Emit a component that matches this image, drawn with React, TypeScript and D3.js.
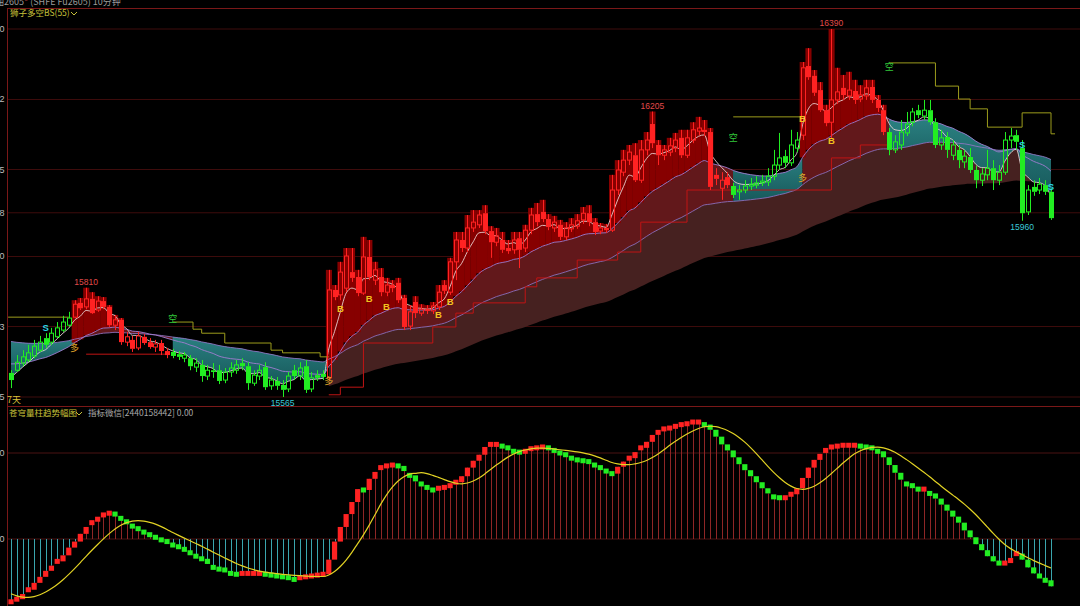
import React, { useEffect } from 'react';
import * as d3 from 'd3';

// ---------- price data (10-minute bars) ----------
const openP = [15619,15625,15641,15648,15657,15670,15697,15688,15700,15715,15726,
15744,15776,15767,15785,15760,15780,15767,15726,15738,15688,
15693,15675,15700,15688,15677,15686,15668,15666,15661,15652,
15652,15632,15637,15612,15625,15625,15603,15621,15625,15641,
15634,15596,15612,15632,15590,15601,15592,15583,15625,15612,
15634,15583,15614,15617,15608,15805,15794,15809,15845,15834,
15798,15879,15827,15834,15800,15816,15821,15787,15724,15778,
15753,15762,15758,15767,15816,15800,15868,15917,15899,15944,
15951,15977,15937,15912,15917,15899,15895,15921,15899,15939,
15975,15980,15964,15944,15951,15924,15942,15948,15962,15977,
15957,15937,15944,15939,16029,16069,16096,16107,16051,16119,
16177,16130,16107,16114,16123,16146,16107,16141,16161,16164,
16159,16063,16033,16058,16038,16025,16029,16038,16040,16045,
16047,16060,16085,16105,16090,16123,16152,16307,16285,16253,
16208,16181,16231,16258,16240,16251,16233,16240,16260,16231,
16208,16159,16119,16130,16157,16181,16208,16195,16208,16181,
16130,16148,16107,16119,16092,16103,16074,16051,16063,16078,
16051,16069,16141,16152,16123,15980,16036,16029,16040,16025];

const closeP = [15603,15643,15655,15664,15679,15688,15682,15708,15720,15733,15742,
15773,15764,15785,15753,15780,15767,15726,15738,15688,15700,
15673,15702,15686,15677,15684,15668,15659,15657,15655,15659,
15634,15641,15612,15625,15621,15601,15621,15630,15637,15634,
15596,15614,15625,15587,15603,15590,15581,15612,15612,15630,
15581,15608,15608,15610,15805,15789,15845,15881,15832,15798,
15879,15834,15850,15800,15816,15809,15782,15722,15756,15753,
15762,15758,15769,15800,15803,15868,15917,15899,15944,15957,
15973,15937,15912,15926,15895,15892,15917,15895,15939,15973,
15957,15964,15946,15957,15924,15944,15951,15960,15977,15957,
15935,15944,15939,16029,16074,16096,16114,16051,16119,16141,
16134,16107,16119,16128,16141,16107,16146,16164,16168,16159,
16036,16054,16051,16040,16018,16029,16038,16042,16045,16049,
16060,16085,16101,16090,16130,16141,16303,16282,16247,16208,
16179,16231,16249,16242,16253,16231,16242,16258,16231,16213,
16159,16119,16137,16159,16177,16204,16197,16208,16181,16130,
16146,16119,16130,16096,16105,16074,16051,16065,16078,16051,
16069,16141,16150,16137,15977,16029,16025,16042,16025,15966];

const highP = [15625,15659,15670,15682,15693,15702,15708,15720,15733,15747,15756,
15782,15787,15810,15800,15791,15789,15771,15749,15742,15711,
15702,15711,15706,15697,15693,15693,15675,15673,15668,15666,
15659,15652,15648,15637,15641,15637,15630,15643,15648,15652,
15643,15625,15637,15643,15612,15610,15603,15621,15637,15643,
15648,15621,15625,15625,15850,15816,15868,15899,15899,15850,
15924,15917,15868,15854,15832,15827,15832,15794,15771,15791,
15773,15771,15778,15816,15827,15877,15935,15935,15973,15984,
15984,15995,15948,15944,15935,15917,15935,15935,15951,15989,
16000,16007,15975,15971,15962,15957,15966,15975,15991,15995,
15966,15955,15953,16063,16096,16119,16130,16134,16141,16159,
16205,16141,16130,16146,16157,16164,16164,16181,16193,16186,
16168,16078,16069,16069,16045,16040,16051,16056,16060,16063,
16078,16119,16157,16119,16164,16159,16316,16347,16298,16271,
16220,16390,16303,16287,16294,16276,16264,16276,16276,16242,
16220,16168,16152,16186,16204,16213,16220,16231,16231,16190,
16164,16159,16141,16130,16119,16123,16083,16078,16119,16096,
16085,16159,16168,16164,16141,16040,16051,16056,16051,16033];

const lowP = [15585,15621,15634,15643,15652,15666,15675,15682,15697,15711,15722,
15742,15760,15762,15751,15756,15762,15722,15715,15682,15679,
15666,15670,15682,15673,15666,15659,15652,15652,15648,15643,
15625,15621,15599,15603,15608,15594,15596,15610,15617,15625,
15581,15590,15603,15581,15581,15581,15565,15576,15603,15603,
15574,15576,15601,15603,15603,15782,15782,15800,15823,15791,
15794,15827,15816,15791,15791,15800,15776,15715,15715,15742,
15747,15751,15751,15760,15796,15794,15827,15890,15890,15935,
15944,15930,15877,15903,15888,15886,15886,15854,15890,15930,
15948,15957,15939,15935,15917,15917,15935,15942,15953,15948,
15928,15930,15933,15935,16018,16060,16085,16047,16045,16107,
16123,16085,16096,16105,16114,16101,16101,16134,16152,16150,
16029,16040,16007,16033,16011,16007,16022,16029,16033,16038,
16038,16051,16074,16078,16083,16114,16141,16276,16240,16204,
16172,16146,16222,16231,16231,16222,16226,16231,16224,16204,
16152,16107,16112,16119,16150,16172,16190,16186,16175,16123,
16119,16101,16096,16078,16078,16067,16033,16038,16051,16029,
16040,16063,16123,16119,15960,15973,16016,16020,16018,15962];

// ---------- oscillator (苍穹量柱) ----------
const oscHistory = [-45,-50,-55,-60,-65,-69,-72,-73,-74];
const oscValues = [-73,-70,-64,-59,-51,-44,-37,-31,-26,-19,-10,
-3,6,14,19,23,28,30,29,24,20,
15,12,8,5,2,-1,-3,-7,-9,-12,
-16,-20,-23,-29,-33,-35,-36,-40,-41,-40,
-40,-40,-40,-41,-42,-43,-44,-45,-47,-45,
-44,-43,-42,-41,-24,-3,14,29,43,58,
57,70,78,83,85,86,85,79,74,67,
64,60,57,59,60,62,66,73,83,91,
98,107,110,110,108,106,102,101,102,105,
106,107,106,103,100,98,94,92,91,90,
86,83,79,76,84,90,94,101,106,113,
121,124,128,129,131,133,134,136,136,133,
127,119,110,103,95,87,80,73,66,59,
53,49,48,48,52,59,71,83,92,99,
103,107,108,109,109,109,108,107,106,102,
95,86,77,69,64,62,58,58,53,47,
40,33,26,19,10,2,-6,-13,-20,-26,
-28,-28,-22,-17,-24,-33,-40,-43,-48,-55];
const oscSignalPeriod = 10;

// ---------- signals ----------
const longStarts = [11, 55, 137];
const shortStarts = [28, 125, 152];
const bSignals = [[57,15764],[62,15785],[65,15769],[74,15751],[76,15780],[137,16190],[142,16139]];
const sSignals = [[6,15720],[175,16130],[180,16036]];
const duoMarks = [[11,15675],[55,15601],[137,16056]];
const kongMarks = [[28,15740],[125,16146],[152,16305]];
const highMarks = [[13,15810],[111,16205],[142,16390]];
const lowMarks = [[47,15565],[175,15960]];

const resistSteps = [
  [[-0.5,15744],[10,15744]],
  [[28,15733],[31.5,15717],[33,15708],[37,15686],[45,15670],[47,15664],[53.5,15655],[55,15655]],
  [[125,16193],[137,16193]],
  [[152,16314],[160,16262],[164,16233],[166,16211],[169,16170],[175,16202],[180,16155],[180.7,16155]],
];
const supportSteps = [
  [[13,15661],[27,15661]],
  [[55,15570],[57,15587],[61,15686],[73,15722],[77,15753],[80,15776],[89,15812],[91,15832],[98,15872],[105,15890],[109,15957],[117,16029],[142,16101],[147,16130],[152,16130]],
];

// ---------- axes ----------
const priceTicks = [16390, 16232, 16075, 15978, 15880, 15723, 15565];
const oscTicks = [100, 0];

// ---------- indicator parameters ----------
const fastN = 5, midN = 20, slowN = 50, baseN = 100;
const fastSeed = 15612, midSeed = 15643, slowSeed = 15693, baseSeed = 15585, baseStart = 55;

function ema(src: number[], n: number, seed: number, start = 0): (number | null)[] {
  const a = 2 / (n + 1);
  let prev = seed;
  return src.map((v, i) => {
    if (i < start) return null;
    prev = prev + a * (v - prev);
    return prev;
  });
}

const CJK = '"Noto Sans CJK SC", "Noto Sans", sans-serif';
const NUM = '"Liberation Sans", Arial, sans-serif';

export default function App() {
  useEffect(() => {
    document.body.style.margin = '0';
    document.body.style.background = '#000';
  }, []);

  const n = closeP.length;
  const idx = d3.range(n);
  const x = d3.scaleLinear().domain([0, n - 1]).range([11, 1051]);
  const y = d3.scaleLinear().domain([15565, 16390]).range([397, 29]);
  const yo = d3.scaleLinear().domain([0, 100]).range([539, 453]);
  const step = x(1) - x(0);

  const F = ema(closeP, fastN, fastSeed) as number[];
  const M = ema(closeP, midN, midSeed) as number[];
  const L = ema(closeP, slowN, slowSeed) as number[];
  const S = ema(closeP, baseN, baseSeed, baseStart);

  const events = [
    ...longStarts.map(i => ({ i, t: 'long' })),
    ...shortStarts.map(i => ({ i, t: 'short' })),
  ].sort((a, b) => a.i - b.i);
  const state = idx.map(i => {
    let s = 'short';
    for (const e of events) if (e.i <= i) s = e.t;
    return s;
  });

  const runs: { a: number; b: number; t: string }[] = [];
  idx.forEach(i => {
    const last = runs[runs.length - 1];
    if (last && last.t === state[i]) last.b = i;
    else runs.push({ a: i, b: i, t: state[i] });
  });

  const bandArea = d3.area<number>()
    .x(i => x(i)).y0(i => y(M[i])).y1(i => y(L[i]))
    .curve(d3.curveMonotoneX);
  // short state: shade from the upper average down to the fast line
  const shortArea = d3.area<number>()
    .x(i => x(i)).y0(i => y(Math.max(M[i], L[i]))).y1(i => y(Math.min(F[i], Math.max(M[i], L[i]))))
    .curve(d3.curveMonotoneX);
  const baseArea = d3.area<number>()
    .defined(i => S[i] !== null)
    .x(i => x(i))
    .y0(i => y(S[i] as number))
    .y1(i => y(Math.max(L[i], S[i] as number)))
    .curve(d3.curveMonotoneX);
  const lineOf = (arr: number[]) => d3.line<number>().x(i => x(i)).y(i => y(arr[i])).curve(d3.curveMonotoneX)(idx) || '';
  const stepLine = d3.line<number[]>().x(d => x(d[0])).y(d => y(d[1])).curve(d3.curveStepAfter);

  const oscAll = [...oscHistory, ...oscValues];
  const off = oscHistory.length;
  const oscSig = oscValues.map((_, i) => d3.mean(oscAll.slice(i + off - (oscSignalPeriod - 1), i + off + 1)) as number);
  const sigLine = d3.line<number>().x(i => x(i)).y(i => yo(oscSig[i])).curve(d3.curveMonotoneX)(idx) || '';

  const red = '#ff2222';
  const green = '#22ee22';

  return (
    <svg width={1080} height={606} style={{ position: 'fixed', left: 0, top: 0, background: '#000' }}>
      <defs>
        <linearGradient id="tealGrad" x1="0" y1="0" x2="0" y2="1">
          <stop offset="0" stopColor="#2a7f80" />
          <stop offset="1" stopColor="#17595b" />
        </linearGradient>
      </defs>
      <rect x={0} y={0} width={1080} height={606} fill="#000" />

      {/* header */}
      <text x={-14} y={5} fontSize={9} fill="#9a9a9a" fontFamily={CJK}>燃油2605<tspan fill="#d04040">*</tspan> (SHFE Fu2605)    10分钟</text>

      {/* grid */}
      {priceTicks.map(p => (
        <line key={'g' + p} x1={7} x2={1080} y1={y(p)} y2={y(p)} stroke="#3e0c0c" strokeWidth={1} />
      ))}
      {oscTicks.map(v => (
        <line key={'go' + v} x1={7} x2={1080} y1={yo(v)} y2={yo(v)} stroke="#4a1212" strokeWidth={1} />
      ))}
      <line x1={7} x2={1080} y1={8.5} y2={8.5} stroke="#7a1818" />
      <line x1={7} x2={1080} y1={406.5} y2={406.5} stroke="#7a1818" />
      <line x1={7.5} x2={7.5} y1={8} y2={606} stroke="#7a1818" />

      {/* axis labels, clipped at left edge */}
      {priceTicks.map(p => (
        <text key={'t' + p} x={4.5} y={y(p) + 3} fontSize={9} fill="#bdbdbd" textAnchor="end" fontFamily={NUM}>{p}</text>
      ))}
      {oscTicks.map(v => (
        <text key={'to' + v} x={4.5} y={yo(v) + 3} fontSize={9} fill="#bdbdbd" textAnchor="end" fontFamily={NUM}>{v}</text>
      ))}

      {/* base brown band */}
      <path d={baseArea(idx) || ''} fill="#462120" />

      {/* middle band by state */}
      {runs.map((r, k) => {
        const pts = d3.range(r.a, Math.min(r.b + 1, n - 1) + 1);
        return <path key={'band' + k} d={bandArea(pts) || ''} fill={r.t === 'long' ? '#62181b' : 'url(#tealGrad)'} />;
      })}
      {runs.filter(r => r.t === 'short').map((r, k) => {
        const pts = d3.range(r.a, Math.min(r.b + 1, n - 1) + 1);
        return <path key={'sh' + k} d={shortArea(pts) || ''} fill="url(#tealGrad)" />;
      })}

      {/* red columns in long state */}
      {idx.filter(i => state[i] === 'long' && highP[i] > M[i]).map(i => (
        <rect key={'st' + i} x={x(i) - step / 2} width={step + 0.3}
          y={y(Math.max(highP[i], F[i]))} height={y(M[i]) - y(Math.max(highP[i], F[i]))} fill="#870000" />
      ))}

      {/* MA lines */}
      <path d={lineOf(L)} fill="none" stroke="#9274c4" strokeWidth={1} opacity={0.85} />
      <path d={lineOf(M)} fill="none" stroke="#a07cd0" strokeWidth={1} opacity={0.9} />
      <path d={lineOf(F)} fill="none" stroke="#f0dada" strokeWidth={1} opacity={0.85} />

      {/* step lines */}
      {resistSteps.map((g, k) => (
        <path key={'rs' + k} d={stepLine(g) || ''} fill="none" stroke="#9c9c1c" strokeWidth={1} />
      ))}
      {supportSteps.map((g, k) => (
        <path key={'sp' + k} d={stepLine(g) || ''} fill="none" stroke="#c01414" strokeWidth={1} />
      ))}

      {/* candles */}
      {idx.map(i => {
        const c = state[i] === 'long' ? red : green;
        const up = closeP[i] >= openP[i];
        const top = y(Math.max(openP[i], closeP[i]));
        const bot = y(Math.min(openP[i], closeP[i]));
        const cx = Math.round(x(i)) + 0.5;
        const h = Math.max(1, bot - top);
        return (
          <g key={'c' + i}>
            <line x1={cx} x2={cx} y1={y(highP[i])} y2={top} stroke={c} strokeWidth={1} />
            <line x1={cx} x2={cx} y1={bot} y2={y(lowP[i])} stroke={c} strokeWidth={1} />
            {up ? (
              <rect x={cx - 2} y={top} width={4} height={h} fill="none" stroke={c} strokeWidth={1} />
            ) : (
              <rect x={cx - 2.5} y={top} width={5} height={h} fill={c} />
            )}
          </g>
        );
      })}

      {/* signal labels */}
      {bSignals.map(([i, p], k) => (
        <text key={'b' + k} x={x(i)} y={y(p) + 3.5} fontSize={9.5} fontWeight="bold" fill="#f2c21e" textAnchor="middle" fontFamily={NUM}>B</text>
      ))}
      {sSignals.map(([i, p], k) => (
        <text key={'s' + k} x={x(i)} y={y(p) + 3.5} fontSize={9.5} fontWeight="bold" fill="#2ad4e4" textAnchor="middle" fontFamily={NUM}>S</text>
      ))}
      {duoMarks.map(([i, p], k) => (
        <text key={'d' + k} x={x(i)} y={y(p) + 3.5} fontSize={9} fill="#e0a82a" textAnchor="middle" fontFamily={CJK}>多</text>
      ))}
      {kongMarks.map(([i, p], k) => (
        <text key={'k' + k} x={x(i)} y={y(p) + 3.5} fontSize={9} fill="#32c83a" textAnchor="middle" fontFamily={CJK}>空</text>
      ))}
      {highMarks.map(([i, p], k) => (
        <text key={'h' + k} x={x(i)} y={y(p) - 3} fontSize={8.5} fill="#e04a4a" textAnchor="middle" fontFamily={NUM}>{p}</text>
      ))}
      {lowMarks.map(([i, p], k) => (
        <text key={'l' + k} x={x(i)} y={y(p) + 9} fontSize={8.5} fill="#3ccbd8" textAnchor="middle" fontFamily={NUM}>{p}</text>
      ))}

      {/* panel titles */}
      <text x={10} y={16} fontSize={8.5} fill="#c8c23a" fontFamily={CJK}>狮子多空BS(55)</text>
      <polyline points="71,12 74,15 77,12" fill="none" stroke="#c8c23a" strokeWidth={1} />
      <text x={7} y={403} fontSize={9} fill="#d8c43a" fontFamily={CJK}>7天</text>
      <text x={9} y={416} fontSize={8.5} fill="#c8c23a" fontFamily={CJK}>苍穹量柱趋势幅图</text>
      <polyline points="76,412 79,415 82,412" fill="none" stroke="#c8c23a" strokeWidth={1} />
      <text x={88} y={416} fontSize={8.5} fill="#a8a8a8" fontFamily={CJK}>指标微信[2440158442] 0.00</text>

      {/* oscillator stems */}
      {idx.map(i => (
        <line key={'os' + i} x1={Math.round(x(i)) + 0.5} x2={Math.round(x(i)) + 0.5} y1={yo(0)} y2={yo(oscValues[i])}
          stroke={oscValues[i] >= 0 ? '#8e2626' : '#3aa6ae'} strokeWidth={1} />
      ))}
      {/* oscillator blocks */}
      {idx.map(i => {
        const prev = i === 0 ? oscHistory[oscHistory.length - 1] : oscValues[i - 1];
        const cur = oscValues[i];
        let y1 = Math.min(yo(prev), yo(cur));
        let y2 = Math.max(yo(prev), yo(cur));
        if (y2 - y1 < 5) { y1 = yo(cur) - 2.5; y2 = yo(cur) + 2.5; }
        return <rect key={'ob' + i} x={x(i) - 2.6} width={5.2} y={y1} height={y2 - y1} fill={cur >= prev ? red : green} />;
      })}
      <path d={sigLine} fill="none" stroke="#e2d224" strokeWidth={1.2} />
    </svg>
  );
}
